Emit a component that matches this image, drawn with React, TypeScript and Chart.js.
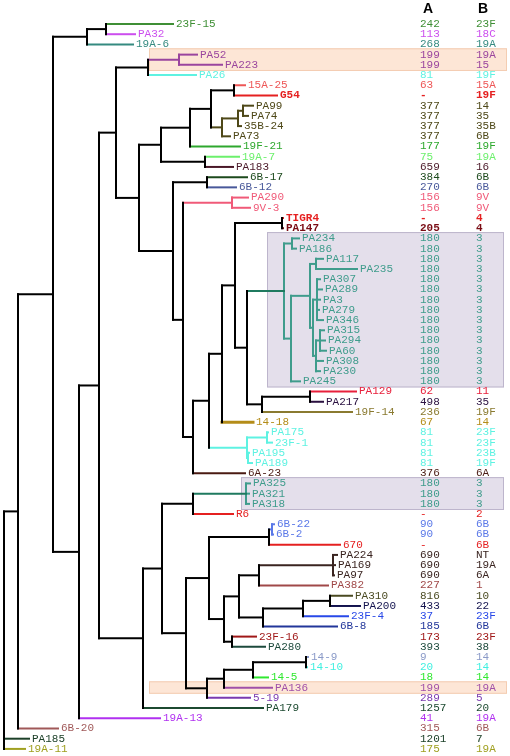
import { useEffect, useRef } from "react";
import { Chart, registerables } from "chart.js";
Chart.register(...registerables);

// ---- leaves (top to bottom) ----
const leafNames = [
  "23F-15","PA32","19A-6","PA52","PA223","PA26","15A-25","G54","PA99","PA74","35B-24","PA73",
  "19F-21","19A-7","PA183","6B-17","6B-12","PA290","9V-3","TIGR4","PA147","PA234","PA186","PA117",
  "PA235","PA307","PA289","PA3","PA279","PA346","PA315","PA294","PA60","PA308","PA230","PA245",
  "PA129","PA217","19F-14","14-18","PA175","23F-1","PA195","PA189","6A-23","PA325","PA321","PA318",
  "R6","6B-22","6B-2","670","PA224","PA169","PA97","PA382","PA310","PA200","23F-4","6B-8",
  "23F-16","PA280","14-9","14-10","14-5","PA136","5-19","PA179","19A-13","6B-20","PA185","19A-11",
];
const leafTipX = [
  173,135,133,197,222,196,245,277,253,248,241,230,
  240,239,233,247,236,248,250,283,283,299,296,323,
  357,320,322,320,319,323,324,325,326,323,320,300,
  356,323,352,253,268,272,249,252,245,250,249,249,
  233,274,273,340,337,335,334,328,352,360,348,337,
  256,265,308,307,268,272,250,263,160,58,29,25,
];
const colAValues = [
  "242","113","268","199","199","81","63","-","377","377","377","377",
  "177","75","659","384","270","156","156","-","205","180","180","180",
  "180","180","180","180","180","180","180","180","180","180","180","180",
  "62","498","236","67","81","81","81","81","376","180","180","180",
  "-","90","90","-","690","690","690","227","816","433","37","185",
  "173","393","9","20","18","199","289","1257","41","315","1201","175",
];
const colBValues = [
  "23F","18C","19A","19A","15","19F","15A","19F","14","35","35B","6B",
  "19F","19A","16","6B","6B","9V","9V","4","4","3","3","3",
  "3","3","3","3","3","3","3","3","3","3","3","3",
  "11","35","19F","14","23F","23F","23B","19F","6A","3","3","3",
  "2","6B","6B","6B","NT","19A","6A","1","10","22","23F","6B",
  "23F","38","14","14","14","19A","5","20","19A","6B","7","19A",
];
const TEAL = "#3f9c8c";
const OLIVE = "#4e4818";
const CYAN = "#5ef2e2";
const leafColors = [
  "#3f8f35","#cc4eee","#358a80","#9a459e","#9a459e",CYAN,"#ee5656","#e52020",OLIVE,OLIVE,OLIVE,OLIVE,
  "#2ea82e","#6cf06c","#4a1828","#1c4a1c","#48589a","#f05a78","#f05a78","#e52020","#7a0c14",TEAL,TEAL,TEAL,
  TEAL,TEAL,TEAL,TEAL,TEAL,TEAL,TEAL,TEAL,TEAL,TEAL,TEAL,TEAL,
  "#e8203c","#2a1040","#8a7a30","#b48c18",CYAN,CYAN,CYAN,CYAN,"#4a1a12",TEAL,TEAL,TEAL,
  "#e52020","#5a78e8","#5a78e8","#e52020","#3a2420","#3a2420","#3a2420","#a04848","#4a4a22","#12124e","#2848e8","#22369a",
  "#a01818","#1c4a3c","#8a9ac8","#40f0e0","#30e830","#a050a8","#7a3ab0","#1c4a30","#b030f0","#a05858","#1c4028","#a0a020",
];
const boldLeaves = ["G54", "TIGR4", "PA147"];

// ---- internal nodes: [id, depth, children top->bottom] ----
const internalNodes: [string, number, string[]][] = [
  ["root", 4, ["n18", "PA185", "19A-11"]],
  ["n18", 18, ["n53", "6B-20"]],
  ["n53", 53, ["n87", "n79"]],
  ["n87", 87, ["n106", "19A-6"]],
  ["n106", 106, ["23F-15", "PA32"]],
  ["n79", 79, ["n99", "19A-13"]],
  ["n99", 99, ["n116", "n143"]],
  ["n116", 116, ["n148", "n139"]],
  ["n148", 148, ["n179", "PA26"]],
  ["n179", 179, ["PA52", "PA223"]],
  ["n139", 139, ["n161", "n173"]],
  ["n161", 161, ["n190", "n205"]],
  ["n190", 190, ["n211", "19F-21"]],
  ["n211", 211, ["n234", "n222o"]],
  ["n234", 234, ["15A-25", "G54"]],
  ["n222o", 222, ["n238", "PA73"]],
  ["n238", 238, ["n243", "35B-24"]],
  ["n243", 243, ["PA99", "PA74"]],
  ["n205", 205, ["19A-7", "PA183"]],
  ["n173", 173, ["n207", "n183"]],
  ["n207", 207, ["6B-17", "6B-12"]],
  ["n183", 183, ["n232", "n193"]],
  ["n232", 232, ["PA290", "9V-3"]],
  ["n193", 193, ["n209", "6A-23"]],
  ["n209", 209, ["n222", "ncyan"]],
  ["n222", 222, ["n235", "14-18"]],
  ["n235", 235, ["n282", "n247"]],
  ["n282", 282, ["TIGR4", "PA147"]],
  ["n247", 247, ["nteal", "n262"]],
  ["nteal", 284, ["n292", "n291"]],
  ["n292", 292, ["PA234", "PA186"]],
  ["n291", 291, ["n310", "PA245"]],
  ["n310", 310, ["n316", "nC"]],
  ["n316", 316, ["PA117", "PA235"]],
  ["nC", 313, ["nG1", "nG2"]],
  ["nG1", 317, ["PA307", "PA289", "PA3", "PA279", "PA346"]],
  ["nG2", 316, ["nG3", "PA308", "PA230"]],
  ["nG3", 320, ["PA315", "PA294", "PA60"]],
  ["n262", 262, ["n310b", "19F-14"]],
  ["n310b", 310, ["PA129", "PA217"]],
  ["ncyan", 247, ["n267", "n248"]],
  ["n267", 267, ["PA175", "23F-1"]],
  ["n248", 248, ["PA195", "PA189"]],
  ["n143", 143, ["n162", "PA179"]],
  ["n162", 162, ["n193b", "n186"]],
  ["n193b", 193, ["nPA3xx", "R6"]],
  ["nPA3xx", 246, ["PA325", "PA321", "PA318"]],
  ["n186", 186, ["n209b", "n207b"]],
  ["n209b", 209, ["n269", "n224"]],
  ["n269", 269, ["n272", "670"]],
  ["n272", 272, ["6B-22", "6B-2"]],
  ["n224", 224, ["n239", "n232b"]],
  ["n239", 239, ["n259", "n263"]],
  ["n259", 259, ["n333", "PA382"]],
  ["n333", 333, ["PA224", "PA169", "PA97"]],
  ["n263", 263, ["n303", "6B-8"]],
  ["n303", 303, ["n330", "23F-4"]],
  ["n330", 330, ["PA310", "PA200"]],
  ["n232b", 232, ["23F-16", "PA280"]],
  ["n207b", 207, ["n224b", "5-19"]],
  ["n224b", 224, ["n253", "PA136"]],
  ["n253", 253, ["n306", "14-5"]],
  ["n306", 306, ["14-9", "14-10"]],
];

// highlight boxes: [firstRow, lastRow, xStart, xEnd]
const boxRows: [number, number, number, number][] = [
  [3, 4, 149, 507],
  [21, 35, 267, 504],
  [45, 47, 241, 504],
  [65, 65, 149, 507],
];
const boxKinds = ["orange", "purple", "purple", "orange"];
const columnHeaders = ["A", "B"];
const columnX = [420, 476];
const headerX = [428, 483];

const edgeColorOverride: Record<string, string> = { nteal: "#1f7a5f", nPA3xx: "#1f7a5f" };
const edgeWidthOverride: Record<string, number> = { "14-18": 3 };

export default function App() {
  const ref = useRef<HTMLCanvasElement | null>(null);
  useEffect(() => {
    document.body.style.margin = "0";
    const canvas = ref.current!;
    const leafIndex: Record<string, number> = {};
    leafNames.forEach((n, i) => (leafIndex[n] = i));
    const nodeMap: Record<string, { x: number; ch: string[] }> = {};
    internalNodes.forEach(([id, x, ch]) => (nodeMap[id] = { x, ch }));
    const isLeaf = (id: string) => id in leafIndex;
    const yOf: Record<string, number> = {};
    const colorOf: Record<string, string> = {};
    const xOf: Record<string, number> = {};
    const walk = (id: string): void => {
      if (isLeaf(id)) {
        const i = leafIndex[id];
        yOf[id] = i;
        colorOf[id] = leafColors[i];
        xOf[id] = leafTipX[i];
        return;
      }
      const n = nodeMap[id];
      n.ch.forEach(walk);
      yOf[id] = (yOf[n.ch[0]] + yOf[n.ch[n.ch.length - 1]]) / 2;
      xOf[id] = n.x;
      const cs = n.ch.map((c) => colorOf[c]);
      colorOf[id] = cs.every((c) => c === cs[0]) ? cs[0] : "#000000";
    };
    walk("root");

    const datasets: any[] = [];
    const seg = (x1: number, y1: number, x2: number, y2: number, color: string, w: number) => {
      datasets.push({
        data: [{ x: x1, y: y1 }, { x: x2, y: y2 }],
        showLine: true,
        borderColor: color,
        borderWidth: w,
        pointRadius: 0,
        borderCapStyle: "square",
        fill: false,
      });
    };
    internalNodes.forEach(([id, x, ch]) => {
      seg(x, yOf[ch[0]], x, yOf[ch[ch.length - 1]], colorOf[id], 2);
      ch.forEach((c) => {
        const col = edgeColorOverride[c] || colorOf[c];
        seg(x, yOf[c], xOf[c], yOf[c], col, edgeWidthOverride[c] || 2);
      });
    });

    const rowPx = 10.21;
    const firstPx = 24;
    const H = 756;

    const decor = {
      id: "decor",
      beforeDatasetsDraw(chart: any) {
        const { ctx, scales } = chart;
        const xs = scales.x, ys = scales.y;
        ctx.save();
        boxRows.forEach(([r0, r1, x0, x1], k) => {
          const top = ys.getPixelForValue(r0 - 0.62);
          const bot = ys.getPixelForValue(r1 + 0.6);
          const left = xs.getPixelForValue(x0);
          const right = xs.getPixelForValue(x1);
          if (boxKinds[k] === "orange") {
            ctx.fillStyle = "#fde6d6";
            ctx.strokeStyle = "#f4cdb2";
          } else {
            ctx.fillStyle = "#e4dfeb";
            ctx.strokeStyle = "#bdb5cc";
          }
          ctx.fillRect(left, top, right - left, bot - top);
          ctx.lineWidth = 1;
          ctx.strokeRect(left + 0.5, top + 0.5, right - left - 1, bot - top - 1);
        });
        ctx.restore();
      },
      afterDatasetsDraw(chart: any) {
        const { ctx, scales } = chart;
        const xs = scales.x, ys = scales.y;
        ctx.save();
        ctx.textBaseline = "middle";
        ctx.textAlign = "left";
        leafNames.forEach((name, i) => {
          const y = ys.getPixelForValue(i);
          const bold = boldLeaves.includes(name) ? "bold " : "";
          ctx.font = bold + "11px 'Liberation Mono', monospace";
          ctx.fillStyle = leafColors[i];
          ctx.fillText(name, xs.getPixelForValue(leafTipX[i]) + 3, y);
          ctx.fillText(colAValues[i], xs.getPixelForValue(columnX[0]), y);
          ctx.fillText(colBValues[i], xs.getPixelForValue(columnX[1]), y);
        });
        ctx.fillStyle = "#000";
        ctx.textAlign = "center";
        ctx.font = "bold 14px 'Liberation Sans', Arial, sans-serif";
        columnHeaders.forEach((h, k) => {
          ctx.fillText(h, xs.getPixelForValue(headerX[k]), ys.getPixelForValue(-1.5));
        });
        ctx.restore();
      },
    };

    const chart = new Chart(canvas, {
      type: "scatter",
      data: { datasets },
      options: {
        animation: false,
        responsive: false,
        devicePixelRatio: 1,
        layout: { padding: 0 },
        plugins: { legend: { display: false }, tooltip: { enabled: false } },
        scales: {
          x: { type: "linear", display: false, min: 0, max: 510 },
          y: {
            type: "linear",
            display: false,
            reverse: true,
            min: -firstPx / rowPx,
            max: (H - firstPx) / rowPx,
          },
        },
      },
      plugins: [decor],
    });
    return () => chart.destroy();
  }, []);
  return (
    <div style={{ width: 510, height: 756, background: "#fff" }}>
      <canvas ref={ref} width={510} height={756} style={{ display: "block" }} />
    </div>
  );
}
